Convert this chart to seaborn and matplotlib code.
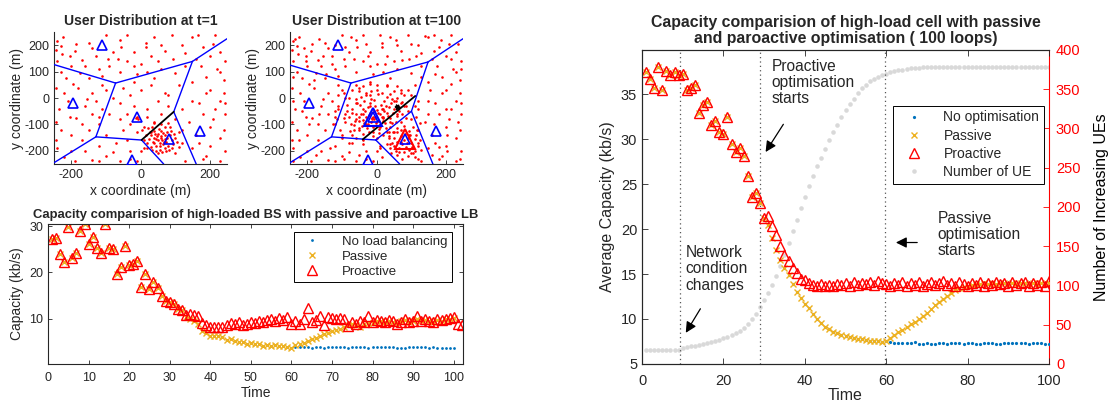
import matplotlib
matplotlib.use("Agg")
import matplotlib.pyplot as plt
import numpy as np
import seaborn as sns

# ---------------- data ----------------
# base stations (x, y) in metres
bs_pos = [(-110, 203), (-196, -20), (-10, -72), (82, -155), (172, -124), (-24, -234)]

# cell boundary segments at t=1 and t=100
edges_t1 = [((-250, 127), (-72, 57)), ((-72, 57), (150, 139)), ((150, 139), (250, 225)),
            ((150, 139), (96, -52)), ((-72, 57), (-129, -147)), ((-129, -147), (3, -159)),
            ((-129, -147), (-250, -245)), ((3, -159), (67, -250)), ((96, -52), (161, -250))]
shared_edge_t1 = [((96, -52), (3, -159))]
edges_t100 = [((-250, 125), (-74, 57)), ((-74, 57), (149, 137)), ((149, 137), (250, 225)),
              ((149, 137), (101, -50)), ((101, -50), (-2, -159)), ((-74, 57), (-130, -147)),
              ((-130, -147), (-2, -159)), ((-130, -147), (-250, -245)), ((-2, -159), (67, -250)),
              ((101, -50), (163, -250))]
shared_edge_t100 = [((-40, -157), (112, 8))]

# users spread over the area
users_bg = [
    (-242, 215), (-230, 198), (-243, 182), (-228, 168), (-185, 205), (-150, 208), (-205, 160),
    (-170, 145), (-140, 190), (-120, 110), (-95, 150), (-80, 175), (-200, 120), (-175, 95),
    (-230, 100), (-215, 75), (-150, 75), (-110, 85), (-240, 140), (-160, 120),
    (-40, 238), (15, 210), (15, 192), (-20, 175), (-55, 195), (-40, 140), (0, 130), (30, 160),
    (60, 110), (70, 180), (95, 150), (120, 200), (130, 120), (-10, 90), (40, 75), (100, 95),
    (-60, 100), (20, 100), (165, 238), (215, 238), (180, 195), (200, 160), (230, 175),
    (245, 140), (175, 120), (220, 110), (190, 80), (240, 70), (160, 150), (210, 205),
    (-245, 40), (-220, 20), (-235, -40), (-205, -70), (-185, -75), (-160, -30), (-130, -10),
    (-100, 30), (-90, -60), (-120, -100), (-150, -120), (-230, -120), (-200, -140),
    (-170, -100), (-245, -90), (-140, 20), (-110, -40), (-80, 0),
    (-50, 40), (-30, 10), (0, 30), (30, 50), (50, -10), (70, 20), (-40, -60), (-20, -30),
    (20, -40), (40, -90), (-50, -120), (-30, -100), (10, -110), (-60, -20), (60, -60),
    (80, -30), (-10, -130), (30, -130), (-6, -78), (-9, -73), (-12, -76),
    (120, -40), (150, -10), (200, 30), (230, -10), (245, -60), (210, -80), (180, -60),
    (140, -90), (230, -150), (200, -180), (160, -140), (120, -120), (190, 20), (240, 20),
    (215, -40), (-240, -190), (-220, -225), (-190, -240), (-160, -200), (-120, -180),
    (-100, -220), (-70, -170), (-60, -240), (-30, -200), (-10, -240), (10, -190),
    (100, -210), (130, -240), (150, -190), (190, -220), (230, -240), (245, -200),
    (170, -170), (-140, -235), (-80, -205),
    (-225, 230), (-100, 240), (-60, 220), (40, 230), (90, 240), (130, 170), (-130, 160),
    (-190, 180), (-110, 50), (-180, 40), (-210, -10), (-140, -60), (-100, -140), (-60, -80),
    (-20, 60), (50, 140), (110, 50), (150, 60), (170, -20), (200, -110), (240, -120),
    (180, -230), (120, -170), (-200, -200), (-170, -160), (-120, -240), (-40, -160),
    (0, -200), (-245, -160), (-65, 150), (20, -70), (80, 10), (100, -80), (-90, 120),
    (-20, 120), (60, 200), (150, 230), (230, 100), (245, -20), (-155, -5), (-195, 55),
    (-120, -70), (-30, -230)]
users_hot_t1 = [
    (30, -140), (40, -150), (50, -160), (60, -145), (70, -155), (55, -170), (45, -180),
    (65, -175), (75, -165), (85, -140), (35, -165), (25, -155), (50, -135), (60, -125),
    (40, -125), (80, -180), (90, -160), (95, -175), (70, -190), (55, -195), (45, -155),
    (62, -160), (72, -140), (48, -145), (38, -172), (58, -152), (66, -132), (78, -150),
    (30, -185), (20, -170), (100, -150), (88, -125), (52, -118), (34, -110), (70, -110),
    (44, -200), (82, -195), (62, -205), (15, -140), (92, -190), (57, -182), (67, -168),
    (43, -138), (77, -128), (28, -128), (105, -165), (10, -160), (50, -210), (85, -110),
    (60, -100), (33, -195), (73, -200), (96, -135), (22, -115), (5, -120), (80, -95),
    (40, -95), (110, -130), (112, -185), (18, -190)]
users_extra_t100 = [
    (-235, 225), (-210, 190), (-165, 225), (-120, 200), (-75, 230), (-30, 205), (10, 240),
    (55, 220), (100, 205), (140, 235), (185, 220), (235, 205), (-205, 140), (-155, 160),
    (-90, 195), (-25, 160), (25, 130), (75, 145), (115, 160), (165, 180), (215, 150),
    (245, 110), (-240, 80), (-180, 70), (-130, 130), (170, 90), (215, 55), (155, 30),
    (-240, -10), (-195, -100), (-165, -60), (-225, -160), (-175, -215), (-135, -190),
    (-95, -230), (-50, -215), (15, -225), (120, -230), (160, -215), (205, -200),
    (240, -230), (235, -90), (200, -40), (165, -100), (205, -140), (150, -60), (-145, 90),
    (-215, -50), (-110, 10), (130, 80), (180, -185), (-240, -240)]
users_hot_t100 = [
    (-5, -70), (10, -60), (-20, -55), (5, -85), (-15, -90), (20, -75), (-30, -70), (0, -45),
    (15, -40), (-25, -35), (30, -55), (-35, -95), (25, -95), (-10, -110), (8, -105),
    (40, -75), (-45, -60), (-5, -30), (35, -35), (-40, -40), (12, -25), (-18, -20),
    (45, -95), (-50, -85), (28, -115), (-28, -115), (3, -55), (-12, -78), (18, -88),
    (-22, -65), (32, -68), (-38, -82), (6, -118), (-8, -48), (22, -50), (-32, -50),
    (48, -55), (-52, -70), (40, -108), (-42, -105),
    (-70, -40), (-80, -70), (-75, -100), (-65, -120), (-55, -20), (-45, 5), (-20, 10),
    (5, 15), (30, 5), (55, -10), (65, -35), (75, -60), (70, -90), (60, -115), (50, -130),
    (20, -140), (-10, -145), (-40, -135), (-60, -5), (-85, -50), (-90, -90), (-70, -140),
    (40, 15), (70, -20), (85, -75), (80, -105), (-30, 20), (15, 20), (60, 0), (-85, -25),
    (-95, -75), (-60, -150), (35, -150), (0, -150), (90, -50), (-15, 25), (50, 25),
    (-50, 25), (85, -30), (-78, -125),
    (-110, -30), (-115, -80), (-105, -120), (-90, 0), (-70, 30), (-40, 45), (0, 50),
    (30, 45), (70, 30), (100, 10), (110, -30), (115, -70), (105, -110), (95, -140),
    (-100, -150), (-80, -170), (-40, -175), (10, -180), (40, -175), (-120, -50), (-60, 50),
    (60, 45), (120, -10), (-125, -100), (-20, 55), (90, 30), (-95, 20), (125, -95),
    (-60, -60), (-48, -28), (-62, -88), (-35, -12), (-8, -8), (22, -10), (42, -20),
    (52, -42), (58, -68), (55, -92), (35, -128), (8, -132), (-22, -130), (-50, -112),
    (-66, -102), (-72, -58), (15, -70), (-2, -95), (-25, -100), (28, -30), (-15, -5),
    (65, -50), (75, -15), (45, -5)]
users_hot2_t100 = [
    (60, -130), (70, -145), (80, -160), (90, -150), (100, -170), (75, -175), (65, -190),
    (85, -185), (95, -195), (110, -155), (50, -150), (45, -170), (55, -200), (80, -205),
    (105, -210), (120, -180), (115, -140), (40, -190), (60, -215), (90, -220), (70, -120),
    (95, -125), (125, -160), (35, -145), (72, -165), (88, -172), (58, -165), (102, -185),
    (48, -130), (110, -200), (130, -195), (30, -175), (75, -230), (118, -120), (52, -182),
    (98, -140), (82, -135), (66, -205), (42, -210), (112, -225)]

# capacity of the high-loaded BS (bottom-left)
time_lb = list(range(1, 101))
time_lb_pro = list(range(1, 103))
proactive_lb = [
    27.2, 27.4, 23.9, 22.3, 29.8, 23.1, 24.3, 29.0, 30.4, 26.2,
    27.7, 25.2, 24.3, 30.4, 25.4, 25.0, 19.7, 21.2, 25.7, 21.6,
    21.8, 22.5, 16.9, 19.7, 16.4, 17.9, 16.7, 15.0, 13.9, 13.6,
    13.2, 12.1, 11.9, 10.7, 11.1, 10.7, 10.5, 9.1, 8.6, 8.3,
    8.2, 8.2, 8.3, 8.6, 9.1, 8.8, 9.3, 8.6, 8.9, 9.3,
    9.1, 9.5, 9.3, 9.7, 10.0, 9.6, 10.2, 9.8, 10.4, 8.9,
    9.4, 8.9, 10.0, 12.3, 9.3, 9.8, 10.6, 8.6, 10.4, 10.2,
    9.9, 10.2, 10.0, 8.4, 9.3, 8.9, 9.6, 9.2, 10.6, 9.3,
    9.8, 9.6, 9.3, 9.8, 9.6, 8.9, 9.3, 10.0, 9.3, 9.6,
    10.6, 9.6, 10.0, 9.4, 9.3, 10.0, 9.7, 10.0, 10.2, 10.4,
    8.9, 8.6]
passive_lb = [
    27.2, 27.4, 23.9, 22.3, 29.8, 23.1, 24.3, 29.0, 30.4, 26.2,
    27.7, 25.2, 24.3, 30.4, 25.4, 25.0, 19.7, 21.2, 25.7, 21.6,
    21.8, 22.5, 16.9, 19.7, 16.4, 17.9, 16.7, 15.0, 13.9, 13.6,
    13.2, 12.1, 11.9, 10.3, 10.0, 9.5, 8.8, 7.3, 7.0, 6.2,
    6.3, 6.2, 6.1, 5.3, 5.5, 5.1, 5.0, 4.9, 4.6, 4.8,
    4.5, 4.6, 4.0, 4.3, 4.0, 4.2, 4.0, 4.1, 3.9, 3.6,
    4.2, 4.5, 4.8, 5.1, 5.5, 5.9, 6.3, 6.7, 6.9, 7.3,
    7.5, 7.8, 8.2, 8.6, 8.9, 8.6, 8.3, 8.8, 9.1, 9.0,
    9.4, 9.6, 9.2, 9.5, 9.3, 9.1, 9.4, 9.7, 9.3, 9.5,
    9.9, 9.5, 9.8, 9.4, 9.3, 9.8, 9.6, 9.9, 10.0, 10.1]
no_lb = [
    27.2, 27.4, 23.9, 22.3, 29.8, 23.1, 24.3, 29.0, 30.4, 26.2,
    27.7, 25.2, 24.3, 30.4, 25.4, 25.0, 19.7, 21.2, 25.7, 21.6,
    21.8, 22.5, 16.9, 19.7, 16.4, 17.9, 16.7, 15.0, 13.9, 13.6,
    13.2, 12.1, 11.9, 10.3, 10.0, 9.5, 8.8, 7.3, 7.0, 6.2,
    6.3, 6.2, 6.1, 5.3, 5.5, 5.1, 5.0, 4.9, 4.6, 4.8,
    4.5, 4.6, 4.0, 4.3, 4.0, 4.2, 4.0, 4.1, 3.9, 3.6,
    3.9, 3.9, 3.8, 3.8, 3.7, 3.8, 3.8, 3.7, 3.8, 3.8,
    3.9, 3.8, 3.8, 3.7, 3.8, 3.8, 3.8, 3.9, 3.7, 3.8,
    3.8, 3.9, 3.8, 3.8, 3.8, 3.7, 3.6, 3.7, 3.8, 3.9,
    3.8, 3.8, 3.8, 3.6, 3.8, 3.7, 3.7, 3.7, 3.7, 3.7]

# average capacity of the high-load cell, 100 loops (right)
time_opt = list(range(1, 101))
proactive_opt = [
    37.4, 36.7, 35.7, 38.0, 35.5, 37.6, 37.1, 37.5, 37.1, 37.2,
    35.4, 35.7, 36.0, 32.9, 33.8, 34.1, 31.6, 32.0, 30.8, 30.6,
    32.4, 29.5, 28.6, 29.0, 28.1, 25.9, 23.6, 24.0, 22.9, 21.2,
    21.4, 20.3, 19.3, 18.1, 17.1, 16.4, 15.7, 15.1, 14.5, 14.3,
    14.0, 13.8, 13.7, 13.9, 13.7, 13.8, 13.7, 13.9, 13.8, 14.0,
    13.7, 14.1, 13.8, 14.0, 13.9, 14.1, 13.8, 14.2, 14.0, 13.9,
    13.7, 14.0, 13.8, 14.1, 13.7, 14.0, 13.8, 14.1, 13.7, 13.9,
    14.1, 13.8, 14.0, 14.2, 13.8, 14.0, 13.7, 14.1, 13.9, 13.7,
    14.0, 13.8, 14.1, 13.7, 14.0, 13.8, 14.1, 13.9, 14.0, 13.7,
    14.1, 13.8, 14.0, 14.1, 13.7, 14.0, 13.8, 14.1, 13.7, 14.2]
passive_opt = [
    37.4, 36.7, 35.7, 38.0, 35.5, 37.6, 37.1, 37.5, 37.1, 37.2,
    35.4, 35.7, 36.0, 32.9, 33.8, 34.1, 31.6, 32.0, 30.8, 30.6,
    32.4, 29.5, 28.6, 29.0, 28.1, 25.9, 23.6, 24.0, 22.9, 21.2,
    20.5, 19.0, 17.7, 16.6, 15.7, 14.9, 13.9, 13.0, 12.3, 11.7,
    11.2, 10.6, 10.0, 9.5, 9.1, 8.9, 8.6, 8.4, 8.2, 8.1,
    8.0, 7.9, 7.8, 7.75, 7.7, 7.6, 7.55, 7.5, 7.45, 7.5,
    7.9, 8.2, 8.5, 8.8, 9.1, 9.4, 9.7, 10.0, 10.3, 10.7,
    11.1, 11.5, 11.9, 12.2, 12.6, 12.9, 13.2, 13.4, 13.6, 13.7,
    13.8, 13.9, 13.9, 14.0, 13.9, 14.0, 13.9, 14.0, 13.95, 13.9,
    14.0, 13.9, 14.0, 13.95, 13.9, 14.0, 13.9, 14.0, 13.9, 13.95]
no_opt = [
    37.4, 36.7, 35.7, 38.0, 35.5, 37.6, 37.1, 37.5, 37.1, 37.2,
    35.4, 35.7, 36.0, 32.9, 33.8, 34.1, 31.6, 32.0, 30.8, 30.6,
    32.4, 29.5, 28.6, 29.0, 28.1, 25.9, 23.6, 24.0, 22.9, 21.2,
    20.5, 19.0, 17.7, 16.6, 15.7, 14.9, 13.9, 13.0, 12.3, 11.7,
    11.2, 10.6, 10.0, 9.5, 9.1, 8.9, 8.6, 8.4, 8.2, 8.1,
    8.0, 7.9, 7.8, 7.75, 7.7, 7.6, 7.55, 7.5, 7.45, 7.5,
    7.45, 7.35, 7.35, 7.3, 7.35, 7.3, 7.4, 7.25, 7.25, 7.3,
    7.25, 7.25, 7.3, 7.3, 7.25, 7.3, 7.3, 7.3, 7.25, 7.3,
    7.3, 7.25, 7.2, 7.35, 7.3, 7.3, 7.25, 7.25, 7.3, 7.3,
    7.3, 7.35, 7.3, 7.3, 7.25, 7.3, 7.3, 7.3, 7.25, 7.25]
ue_count = [
    18, 18, 18, 18, 18, 18, 18, 18, 18, 20.5,
    21.5, 22.5, 23.5, 24.5, 25.5, 26.5, 28, 29.5, 31, 33,
    35, 37, 39, 42, 46, 51, 57, 64, 72, 81,
    90, 100, 112, 125, 139, 154, 169, 184, 199, 213,
    227, 240, 252, 263, 274, 285, 295, 305, 314, 323,
    331, 338, 345, 351, 356, 360, 363, 366, 368, 370,
    372, 373, 374, 375, 376, 376.5, 377, 377.5, 378, 378,
    378, 378, 378, 378, 378, 378, 378, 378, 378, 378,
    378, 378, 378, 378, 378, 378, 378, 378, 378, 378,
    378, 378, 378, 378, 378, 378, 378, 378, 378, 378]

event_times = [9.4, 29, 59.8]

# ---------------- style ----------------
sns.set_theme(style="ticks")
plt.rcParams["font.family"] = ["Liberation Sans", "DejaVu Sans"]
plt.rcParams["axes.unicode_minus"] = False
plt.rcParams["xtick.direction"] = "in"
plt.rcParams["ytick.direction"] = "in"
plt.rcParams["axes.linewidth"] = 0.8
plt.rcParams["axes.edgecolor"] = "#262626"

C_BLUE = "#0072BD"
C_ORANGE = "#EDB120"
C_RED = "#FF0000"
C_GRAY = "#D9D9D9"

fig = plt.figure(figsize=(11.09, 4.07), dpi=100)
ax_u1 = fig.add_axes([0.0487, 0.597, 0.156, 0.324])
ax_u2 = fig.add_axes([0.2615, 0.597, 0.156, 0.324])
ax_c = fig.add_axes([0.0433, 0.1057, 0.3742, 0.344])
ax_r = fig.add_axes([0.5789, 0.1057, 0.367, 0.7715])


def draw_users(ax, users, edges, shared, title):
    u = np.array(users)
    sns.scatterplot(x=u[:, 0], y=u[:, 1], s=3.5, color=C_RED, linewidth=0, ax=ax, zorder=2)
    for (p, q) in edges:
        ax.plot([p[0], q[0]], [p[1], q[1]], color="#0000FF", lw=1.0, zorder=3)
    for (p, q) in shared:
        ax.plot([p[0], q[0]], [p[1], q[1]], color="black", lw=1.3, zorder=4)
    b = np.array(bs_pos)
    ax.plot(b[:, 0], b[:, 1], linestyle="none", marker="^", markersize=7.5,
            markerfacecolor="none", markeredgecolor="#0000FF", markeredgewidth=1.2, zorder=5)
    ax.set_xlim(-250, 250)
    ax.set_ylim(-250, 250)
    ax.set_xticks([-200, 0, 200])
    ax.set_yticks([-200, -100, 0, 100, 200])
    ax.tick_params(labelsize=9, length=3, width=0.6)
    ax.spines["top"].set_visible(False)
    ax.spines["right"].set_visible(False)
    ax.set_xlabel("x coordinate (m)", fontsize=10, labelpad=2)
    ax.set_ylabel("y coordinate (m)", fontsize=10, labelpad=0)
    ax.set_title(title, fontsize=10, fontweight="bold", pad=5)


draw_users(ax_u1, users_bg + users_hot_t1, edges_t1, shared_edge_t1,
           "User Distribution at t=1")
draw_users(ax_u2, users_bg + users_extra_t100 + users_hot_t100 + users_hot2_t100,
           edges_t100, shared_edge_t100, "User Distribution at t=100")
# loaded cells highlighted at t=100
ax_u2.plot([bs_pos[2][0]], [bs_pos[2][1]], marker="^", markersize=13, markerfacecolor="none",
           markeredgecolor="#0000FF", markeredgewidth=1.5, zorder=6)
ax_u2.plot([bs_pos[3][0]], [bs_pos[3][1]], marker="^", markersize=14, markerfacecolor="none",
           markeredgecolor=C_RED, markeredgewidth=1.5, zorder=6)
ax_u2.annotate("", xy=(52, -12), xytext=(70, -58),
               arrowprops=dict(arrowstyle="<|-|>", color="black", lw=1.0, mutation_scale=7))

# ---- bottom-left: capacity of high-loaded BS ----
sns.lineplot(x=time_lb, y=no_lb, ax=ax_c, linestyle="none", marker="o", markersize=2,
             color=C_BLUE, markeredgewidth=0, label="No load balancing", legend=False)
sns.lineplot(x=time_lb, y=passive_lb, ax=ax_c, linestyle="none", marker="x", markersize=5,
             color=C_ORANGE, markeredgecolor=C_ORANGE, markeredgewidth=1.0,
             label="Passive", legend=False)
sns.lineplot(x=time_lb_pro, y=proactive_lb, ax=ax_c, linestyle="none", marker="^",
             markersize=7.5, color=C_RED, markerfacecolor="none", markeredgecolor=C_RED,
             markeredgewidth=1.0, label="Proactive", legend=False)
ax_c.set_xlim(0, 102.3)
ax_c.set_ylim(0.2, 30.5)
ax_c.set_xticks(range(0, 101, 10))
ax_c.set_yticks([10, 20, 30])
ax_c.tick_params(labelsize=9, length=3, width=0.6, top=True, right=True)
ax_c.tick_params(axis="x", pad=5.5)
ax_c.set_xlabel("Time", fontsize=10, labelpad=2)
ax_c.set_ylabel("Capacity (kb/s)", fontsize=10, labelpad=4)
ax_c.set_title("Capacity comparision of high-loaded BS with passive and paroactive LB",
               fontsize=9.4, fontweight="bold", pad=4)
leg = ax_c.legend(loc="upper right", bbox_to_anchor=(0.973, 0.945), fontsize=9.5,
                  frameon=True, fancybox=False, edgecolor="black", framealpha=1,
                  borderpad=0.3, labelspacing=0.2, handlelength=2.2, handletextpad=1.2,
                  borderaxespad=0)
leg.get_frame().set_linewidth(0.7)

# ---- right: capacity with optimisation and number of UEs ----
ax_n = ax_r.twinx()
sns.lineplot(x=time_opt, y=ue_count, ax=ax_n, linestyle="none", marker="o", markersize=3.3,
             color=C_GRAY, markeredgewidth=0, label="Number of UE", legend=False)
sns.lineplot(x=time_opt, y=no_opt, ax=ax_r, linestyle="none", marker="o", markersize=2.3,
             color=C_BLUE, markeredgewidth=0, label="No optimisation", legend=False)
sns.lineplot(x=time_opt, y=passive_opt, ax=ax_r, linestyle="none", marker="x", markersize=5,
             color=C_ORANGE, markeredgecolor=C_ORANGE, markeredgewidth=1.0,
             label="Passive", legend=False)
sns.lineplot(x=time_opt, y=proactive_opt, ax=ax_r, linestyle="none", marker="^",
             markersize=7.5, color=C_RED, markerfacecolor="none", markeredgecolor=C_RED,
             markeredgewidth=1.0, label="Proactive", legend=False)
ax_r.set_zorder(ax_n.get_zorder() + 1)
ax_r.patch.set_visible(False)

for t in event_times:
    ax_r.axvline(t, color="#555555", linestyle=(0, (1, 2.5)), lw=0.9, zorder=1)

ax_r.set_xlim(0, 100)
ax_r.set_ylim(5, 39.9)
ax_r.set_xticks(range(0, 101, 20))
ax_r.set_yticks(range(5, 36, 5))
ax_r.tick_params(labelsize=10.5, length=4, width=0.6, top=True, right=False)
ax_r.tick_params(axis="x", pad=7.5)
ax_r.spines["right"].set_visible(False)
ax_r.set_xlabel("Time", fontsize=11.5, labelpad=0)
ax_r.set_ylabel("Average Capacity (kb/s)", fontsize=11.5, labelpad=4)
ax_r.set_title("Capacity comparision of high-load cell with passive\n"
               "and paroactive optimisation ( 100 loops)",
               fontsize=11.4, fontweight="bold", pad=5, linespacing=1.1)

ax_n.set_ylim(0, 400)
ax_n.set_yticks(range(0, 401, 50))
ax_n.spines["right"].set_color(C_RED)
ax_n.tick_params(axis="y", colors=C_RED, labelsize=10.5, length=4, width=0.6, pad=5)
ax_n.set_ylabel("Number of Increasing UEs", fontsize=11.5, color="black", labelpad=10)

ann_font = 11.2
ax_r.text(31.9, 38.9, "Proactive\noptimisation\nstarts", fontsize=ann_font, va="top",
          ha="left", linespacing=1.1)
ax_r.annotate("", xy=(30.0, 28.3), xytext=(35.1, 31.9),
              arrowprops=dict(arrowstyle="-|>", color="black", lw=0.9, mutation_scale=16))
ax_r.text(10.7, 18.2, "Network\ncondition\nchanges", fontsize=ann_font, va="top",
          ha="left", linespacing=1.1)
ax_r.annotate("", xy=(10.4, 8.2), xytext=(14.7, 11.4),
              arrowprops=dict(arrowstyle="-|>", color="black", lw=0.9, mutation_scale=16))
ax_r.text(72.6, 22.0, "Passive\noptimisation\nstarts", fontsize=ann_font, va="top",
          ha="left", linespacing=1.1)
ax_r.annotate("", xy=(61.7, 18.5), xytext=(68.3, 18.5),
              arrowprops=dict(arrowstyle="-|>", color="black", lw=0.9, mutation_scale=16))

h1, l1 = ax_r.get_legend_handles_labels()
h2, l2 = ax_n.get_legend_handles_labels()
leg2 = ax_r.legend(h1 + h2, l1 + l2, loc="upper right", bbox_to_anchor=(0.988, 0.823),
                   fontsize=10, frameon=True, fancybox=False, edgecolor="black",
                   framealpha=1, borderpad=0.35, labelspacing=0.3, handlelength=2.4,
                   handletextpad=0.9, borderaxespad=0)
leg2.get_frame().set_linewidth(0.7)

fig.savefig("out.png", dpi=100)
